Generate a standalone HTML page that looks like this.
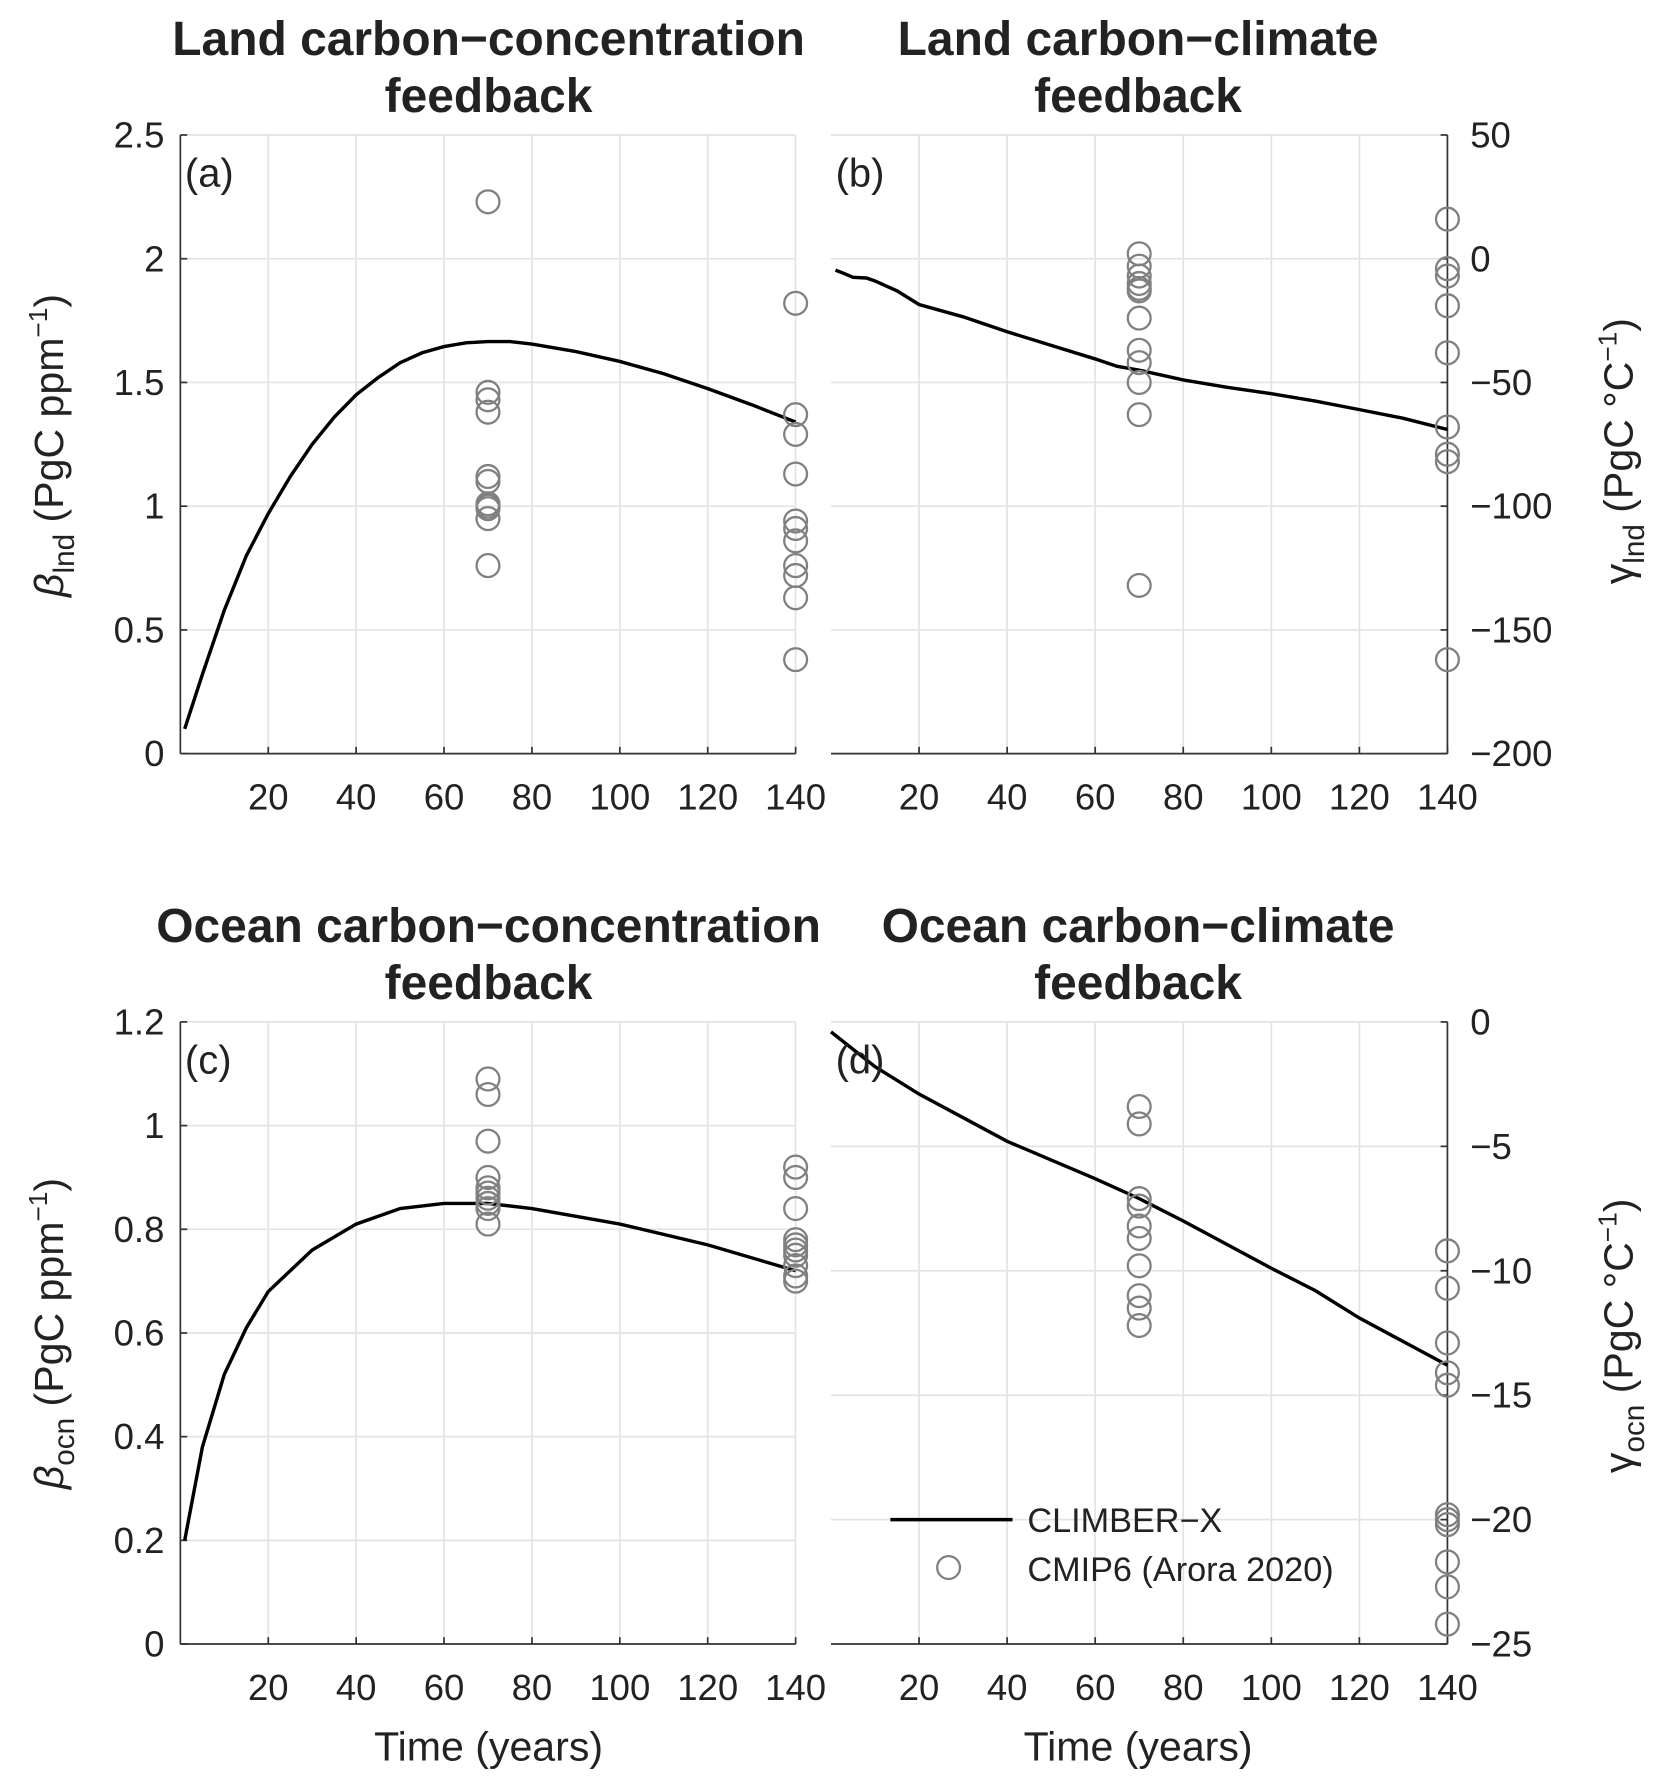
<!DOCTYPE html>
<html><head><meta charset="utf-8"><style>
html,body{margin:0;padding:0;background:#fff}
svg{display:block}
text{font-family:"Liberation Sans","DejaVu Sans",sans-serif;fill:#222}
</style></head><body>
<svg id="fig" width="1678" height="1787" viewBox="0 0 1470 1565" xmlns="http://www.w3.org/2000/svg"></svg>
<script>
// ---- data ----
const xTicks=[20,40,60,80,100,120,140];
const aLineX=[1,5,10,15,20,25,30,35,40,45,50,55,60,65,70,75,80,90,100,110,120,130,140];
const aLineY=[0.1,0.32,0.58,0.8,0.97,1.12,1.25,1.36,1.45,1.52,1.58,1.62,1.645,1.66,1.665,1.665,1.655,1.625,1.585,1.535,1.475,1.41,1.34];
const aPts70=[2.23,1.46,1.43,1.38,1.12,1.10,1.01,1.00,0.99,0.95,0.76];
const aPts140=[1.82,1.37,1.29,1.13,0.94,0.91,0.86,0.76,0.72,0.63,0.38];
const aTicks=[0,0.5,1,1.5,2,2.5];
const bLineX=[1,3,5,8,10,15,20,30,40,50,60,65,70,80,90,100,110,120,130,140];
const bLineY=[-4.6,-6,-7.5,-7.8,-9,-13,-18.5,-23.5,-29.5,-35,-40.5,-43.5,-45,-49,-52,-54.5,-57.5,-61,-64.5,-69];
const bPts70=[2,-3,-7,-10,-12,-13,-24,-37,-42,-50,-63,-132];
const bPts140=[16,-4,-7,-19,-38,-68,-79,-82,-162];
const bTicks=[-200,-150,-100,-50,0,50];
const cLineX=[1,5,10,15,20,30,40,50,60,70,80,100,120,140];
const cLineY=[0.2,0.38,0.52,0.61,0.68,0.76,0.81,0.84,0.85,0.85,0.84,0.81,0.77,0.72];
const cPts70=[1.09,1.06,0.97,0.90,0.88,0.87,0.86,0.85,0.84,0.81];
const cPts140=[0.92,0.90,0.84,0.78,0.77,0.76,0.75,0.73,0.71,0.70];
const cTicks=[0,0.2,0.4,0.6,0.8,1,1.2];
const dLineX=[0,10,20,40,60,70,80,100,110,120,140];
const dLineY=[-0.4,-1.8,-2.9,-4.8,-6.3,-7.1,-8,-9.9,-10.8,-11.9,-13.8];
const dPts70=[-3.4,-4.1,-7.1,-7.4,-8.2,-8.7,-9.8,-11.0,-11.5,-12.2];
const dPts140=[-9.2,-10.7,-12.9,-14.1,-14.6,-19.8,-20.0,-20.2,-21.7,-22.7,-24.2];
const dTicks=[-25,-20,-15,-10,-5,0];

const NS="http://www.w3.org/2000/svg";
const svg=document.getElementById('fig');
function mk(tag,attrs,parent,txt){const e=document.createElementNS(NS,tag);for(const k in attrs)e.setAttribute(k,attrs[k]);if(txt!==undefined)e.textContent=txt;(parent||svg).appendChild(e);return e;}

function panel(o){
  const g=mk('g',{});
  
  
  const X=v=>o.x0+(v-0)/(140-0)*(o.x1-o.x0);
  const Y=v=>o.y1-(v-o.ymin)/(o.ymax-o.ymin)*(o.y1-o.y0);
  xTicks.forEach(t=>{const l=mk('line',{x1:X(t),x2:X(t),y1:o.y0,y2:o.y1,stroke:'#e3e3e3','stroke-width':1.5},g);
    });
  o.ticks.forEach(t=>{const l=mk('line',{x1:o.x0,x2:o.x1,y1:Y(t),y2:Y(t),stroke:'#e3e3e3','stroke-width':1.5},g);
    });
  const ax=mk('line',{x1:o.x0,x2:o.x1,y1:o.y1,y2:o.y1,stroke:'#333','stroke-width':1.5},g);
  
  const yx=o.right?o.x1:o.x0;
  const ay=mk('line',{x1:yx,x2:yx,y1:o.y0,y2:o.y1,stroke:'#333','stroke-width':1.5},g);
  
  xTicks.forEach(t=>{
    mk('line',{x1:X(t),x2:X(t),y1:o.y1,y2:o.y1-6,stroke:'#333','stroke-width':1.5},g);
    const tx=mk('text',{x:X(t),y:o.y1+49,'text-anchor':'middle','font-size':32},g,t);
    
  });
  o.ticks.forEach(t=>{
    const dx=o.right?-6:6;
    mk('line',{x1:yx,x2:yx+dx,y1:Y(t),y2:Y(t),stroke:'#333','stroke-width':1.5},g);
    const tx=mk('text',{x:o.right?yx+20:yx-14,y:Y(t)+11,'text-anchor':o.right?'start':'end','font-size':32},g,String(t).replace('-','\u2212'));
    
  });
  const pts=o.lx.map((x,i)=>X(x).toFixed(1)+','+Y(o.ly[i]).toFixed(1)).join(' ');
  const pl=mk('polyline',{points:pts,fill:'none',stroke:'#000','stroke-width':3},g);
  
  [[70,o.p70],[140,o.p140]].forEach(([xv,arr])=>arr.forEach(v=>{
    const c=mk('circle',{cx:X(xv),cy:Y(v),r:10,fill:'none',stroke:'#808080','stroke-width':2},g);
    
  }));
  const lb=mk('text',{x:o.x0+4,y:o.y0+45,'font-size':35},g,o.label);
  
  const t1=mk('text',{x:o.tx,y:o.y0-70,'text-anchor':'middle','font-size':42,'font-weight':'bold'},g,o.t1);
  
  mk('text',{x:o.tx,y:o.y0-20,'text-anchor':'middle','font-size':42,'font-weight':'bold'},g,'feedback');
  return {X,Y};
}
panel({name:'panel-a',x0:158,x1:697,y0:118,y1:660,ymin:0,ymax:2.5,ticks:aTicks,lx:aLineX,ly:aLineY,p70:aPts70,p140:aPts140,label:'(a)',t1:'Land carbon\u2212concentration',tx:428});
panel({name:'panel-b',x0:728,x1:1268,y0:118,y1:660,ymin:-200,ymax:50,ticks:bTicks,lx:bLineX,ly:bLineY,p70:bPts70,p140:bPts140,label:'(b)',t1:'Land carbon\u2212climate',tx:997,right:true});
panel({name:'panel-c',x0:158,x1:697,y0:895,y1:1440,ymin:0,ymax:1.2,ticks:cTicks,lx:cLineX,ly:cLineY,p70:cPts70,p140:cPts140,label:'(c)',t1:'Ocean carbon\u2212concentration',tx:428});
panel({name:'panel-d',x0:728,x1:1268,y0:895,y1:1440,ymin:-25,ymax:0,ticks:dTicks,lx:dLineX,ly:dLineY,p70:dPts70,p140:dPts140,label:'(d)',t1:'Ocean carbon\u2212climate',tx:997,right:true});
</script>
<script>
const s=document.getElementById('fig');
s.insertAdjacentHTML('beforeend',`
<g>
<text transform="translate(55,390) rotate(-90)" text-anchor="middle" font-size="36"><tspan font-style="italic">β</tspan><tspan font-size="26" dy="10">lnd</tspan><tspan dy="-10"> (PgC ppm</tspan><tspan font-size="23" dy="-14">−1</tspan><tspan dy="14">)</tspan></text>
<text transform="translate(1430,395) rotate(-90)" text-anchor="middle" font-size="36">γ<tspan font-size="26" dy="10">lnd</tspan><tspan dy="-10"> (PgC °C</tspan><tspan font-size="23" dy="-14">−1</tspan><tspan dy="14">)</tspan></text>
<text transform="translate(55,1168) rotate(-90)" text-anchor="middle" font-size="36"><tspan font-style="italic">β</tspan><tspan font-size="26" dy="10">ocn</tspan><tspan dy="-10"> (PgC ppm</tspan><tspan font-size="23" dy="-14">−1</tspan><tspan dy="14">)</tspan></text>
<text transform="translate(1430,1170) rotate(-90)" text-anchor="middle" font-size="36">γ<tspan font-size="26" dy="10">ocn</tspan><tspan dy="-10"> (PgC °C</tspan><tspan font-size="23" dy="-14">−1</tspan><tspan dy="14">)</tspan></text>
<text x="428" y="1542" text-anchor="middle" font-size="36">Time (years)</text>
<text x="997" y="1542" text-anchor="middle" font-size="36">Time (years)</text>
</g>
<g>
<line x1="780" x2="887" y1="1331" y2="1331" stroke="#000" stroke-width="3"/>
<text x="900" y="1342" font-size="30">CLIMBER−X</text>
<circle cx="831" cy="1373" r="10" fill="none" stroke="#808080" stroke-width="2"/>
<text x="900" y="1385" font-size="30">CMIP6 (Arora 2020)</text>
</g>`);
</script>
</body></html>
